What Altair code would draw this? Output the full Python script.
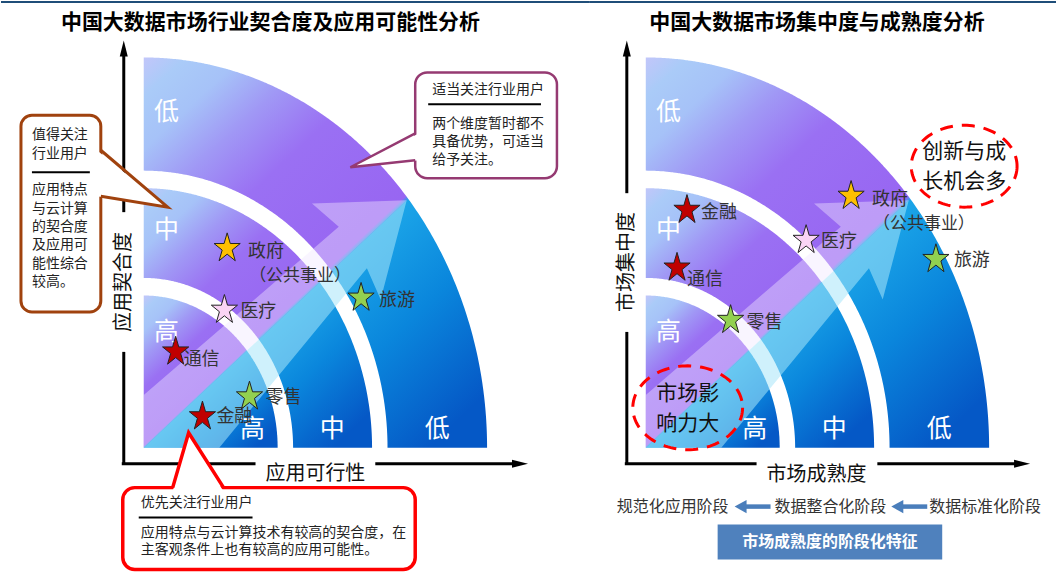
import altair as alt
import numpy as np
import pandas as pd

FONT = "Noto Sans CJK SC"

# ------------------------------------------------------------------ data
LEFT_TITLE = "中国大数据市场行业契合度及应用可能性分析"
RIGHT_TITLE = "中国大数据市场集中度与成熟度分析"
LEFT_X_TITLE, LEFT_Y_TITLE = "应用可行性", "应用契合度"
RIGHT_X_TITLE, RIGHT_Y_TITLE = "市场成熟度", "市场集中度"

LEVELS = ["高", "中", "低"]
LEVEL_INNER = [0.0, 43.5, 71.0]
LEVEL_OUTER = [39.0, 66.5, 100.0]

INDUSTRIES = ["政府", "医疗", "旅游", "通信", "零售", "金融"]
STAR_COLORS = ["#ffc000", "#fad4f4", "#92d050", "#c00000", "#92d050", "#c00000"]
GOV_NOTE = "（公共事业）"

# left panel: 应用可行性 (x) / 应用契合度 (y)
LEFT_X = [24.3, 23.5, 63.3, 9.3, 30.8, 17.1]
LEFT_Y = [51.1, 35.3, 38.4, 24.6, 13.1, 8.0]
# right panel: 市场成熟度 (x) / 市场集中度 (y)
RIGHT_X = [59.8, 46.7, 84.5, 9.1, 24.7, 12.0]
RIGHT_Y = [64.5, 53.2, 48.3, 46.1, 32.7, 60.9]

NOTE_WATCH_TITLE = ["值得关注", "行业用户"]
NOTE_WATCH_BODY = ["应用特点", "与云计算", "的契合度", "及应用可", "能性综合", "较高。"]
NOTE_MODERATE_TITLE = ["适当关注行业用户"]
NOTE_MODERATE_BODY = ["两个维度暂时都不", "具备优势，可适当", "给予关注。"]
NOTE_PRIORITY_TITLE = ["优先关注行业用户"]
NOTE_PRIORITY_BODY = ["应用特点与云计算技术有较高的契合度，在", "主客观条件上也有较高的应用可能性。"]

BUBBLE_GROWTH = ["创新与成", "长机会多"]
BUBBLE_IMPACT = ["市场影", "响力大"]
STAGES = ["规范化应用阶段", "数据整合化阶段", "数据标准化阶段"]
STAGE_CAPTION = "市场成熟度的阶段化特征"

# ------------------------------------------------------------------ layout
SX, SY = 3.44, 3.91          # px per unit
H = 580
LEFT = dict(off=0, w=590, cx=143.0, cy=448.0)
RIGHT = dict(off=590, w=467, cx=646.0, cy=448.0)

LEFT_LABEL_DX = [21, 16, 18, 8, 16, 14]
LEFT_LABEL_DY = [4, 2, 3, 8, 1, 1]
RIGHT_LABEL_DX = [21, 15, 18, 10, 16, 14]
RIGHT_LABEL_DY = [4, 2, 2, 12, 3, 3]
GOV_NOTE_DX, GOV_NOTE_DY = 73, 28

LEVEL_LABEL_V = [29.7, 55.8, 85.9]   # along the vertical side
LEVEL_LABEL_U = [31.7, 54.9, 85.5]   # along the horizontal side

ARROW_TOP = [(0, 13.5), (56.8, 56.6), (49.0, 62.6), (76.6, 63.4), (0, 0)]
ARROW_SIDE = [(0, 0), (76.6, 63.4), (69.0, 38.0), (65.0, 46.0), (22.0, 0)]

GRADIENT = alt.Gradient(
    gradient="linear", x1=0, y1=0, x2=0.83, y2=1,
    stops=[
        alt.GradientStop(offset=0.0, color="#c2c6fa"),
        alt.GradientStop(offset=0.06, color="#aacbf8"),
        alt.GradientStop(offset=0.14, color="#a6c2f8"),
        alt.GradientStop(offset=0.24, color="#a098f5"),
        alt.GradientStop(offset=0.36, color="#9a70f3"),
        alt.GradientStop(offset=0.585, color="#9866f2"),
        alt.GradientStop(offset=0.595, color="#1ba5e8"),
        alt.GradientStop(offset=0.78, color="#0a86dc"),
        alt.GradientStop(offset=1.0, color="#0558c6"),
    ],
)

_a = np.deg2rad(np.arange(10) * 36 - 90)
_r = np.where(np.arange(10) % 2 == 0, 1.0, 0.382)
STAR = "M" + "L".join(f"{r*np.cos(a):.3f},{1.12*r*np.sin(a):.3f}" for r, a in zip(_r, _a)) + "Z"
HEAD_UP = "M0,-1L0.5,1L-0.5,1Z"
HEAD_RIGHT = "M1,0L-1,0.5L-1,-0.5Z"
HEAD_LEFT = "M-1,0L1,-1.1L1,1.1Z"


def band_frame():
    rows = []
    t = np.linspace(0, np.pi / 2, 181)
    for name, r0, r1 in zip(LEVELS, LEVEL_INNER, LEVEL_OUTER):
        xv = np.unique(np.round(np.concatenate([r1 * np.cos(t), r0 * np.cos(t)]), 6))
        xv = xv[xv <= r1]
        top = np.sqrt(np.clip(r1 ** 2 - xv ** 2, 0, None))
        bot = np.sqrt(np.clip(r0 ** 2 - xv ** 2, 0, None))
        for a, b, c in zip(xv, bot, top):
            rows.append({"band": name, "x": a, "y": b, "y2": c})
    return pd.DataFrame(rows)


def build(p, side):
    lx = p["cx"] - p["off"]
    xs = alt.Scale(domain=[-lx / SX, (p["w"] - lx) / SX], nice=False, zero=False)
    ys = alt.Scale(domain=[(p["cy"] - H) / SY, p["cy"] / SY], nice=False, zero=False)

    def X(f):
        return alt.X(f"{f}:Q", scale=xs, axis=None)

    def Y(f):
        return alt.Y(f"{f}:Q", scale=ys, axis=None)

    def u(px):
        return (px - p["cx"]) / SX

    def v(py):
        return (p["cy"] - py) / SY

    def text_units(xv, yv, tv, size, color="#333333", weight="normal", align="left", angle=None):
        df = pd.DataFrame({"x": xv, "y": yv, "t": tv})
        kw = dict(font=FONT, fontSize=size, color=color, fontWeight=weight,
                  align=align, baseline="middle")
        if angle is not None:
            kw["angle"] = angle
        return alt.Chart(df).mark_text(**kw).encode(x=X("x"), y=Y("y"), text="t:N")

    def texts(rows, size, color="#222222", weight="normal", align="left", angle=None):
        return text_units([u(r[0]) for r in rows], [v(r[1]) for r in rows],
                          [r[2] for r in rows], size, color, weight, align, angle)

    def rules(rows, color, width):
        df = pd.DataFrame([{"x": u(a), "y": v(b), "x2": u(c), "y2": v(d)} for a, b, c, d in rows])
        return alt.Chart(df).mark_rule(color=color, strokeWidth=width).encode(
            x=X("x"), y=Y("y"), x2=alt.X2("x2:Q"), y2=alt.Y2("y2:Q"))

    def poly_units(points, fill, opacity=1.0):
        df = pd.DataFrame([{"x": a, "y": b, "i": k} for k, (a, b) in enumerate(points)])
        return alt.Chart(df).mark_line(fill=fill, fillOpacity=opacity, strokeWidth=0,
                                       strokeOpacity=0).encode(x=X("x"), y=Y("y"), order="i:Q")

    def path_units(points, color, width, dash=None):
        df = pd.DataFrame([{"x": a, "y": b, "i": k} for k, (a, b) in enumerate(points)])
        kw = dict(color=color, strokeWidth=width, strokeJoin="miter")
        if dash:
            kw["strokeDash"] = dash
        return alt.Chart(df).mark_line(**kw).encode(x=X("x"), y=Y("y"), order="i:Q")

    def symbols(xv, yv, shape, size, color):
        df = pd.DataFrame({"x": xv, "y": yv})
        return alt.Chart(df).mark_point(shape=shape, size=size, filled=True, color=color,
                                        opacity=1).encode(x=X("x"), y=Y("y"))

    def callout(rect, tail, inward, color, sw, radius):
        x0, y0, x1, y1 = rect
        rdf = pd.DataFrame([{"x": u(x0), "x2": u(x1), "y": v(y0), "y2": v(y1)}])
        box = alt.Chart(rdf).mark_rect(fill="white", stroke=color, strokeWidth=sw,
                                       cornerRadius=radius).encode(
            x=X("x"), x2=alt.X2("x2:Q"), y=Y("y"), y2=alt.Y2("y2:Q"))
        b1, tip, b2 = tail
        ix, iy = inward
        fill_pts = [(u(b1[0] + ix), v(b1[1] + iy)), (u(tip[0]), v(tip[1])),
                    (u(b2[0] + ix), v(b2[1] + iy))]
        line_pts = [(u(b1[0]), v(b1[1])), (u(tip[0]), v(tip[1])), (u(b2[0]), v(b2[1]))]
        return [box, poly_units(fill_pts, "white"), path_units(line_pts, color, sw)]

    layers = []
    # top rule + title
    layers.append(rules([(p["off"], 1.5, p["off"] + p["w"], 1.5)], "#1f4e79", 2))
    if side == "left":
        layers.append(texts([(270, 23, LEFT_TITLE)], 21, "#000000", "bold", "center"))
    else:
        layers.append(texts([(817.5, 23, RIGHT_TITLE)], 21, "#000000", "bold", "center"))

    # level bands
    layers.append(alt.Chart(band_frame()).mark_area(color=GRADIENT, interpolate="linear").encode(
        x=X("x"), y=Y("y"), y2=alt.Y2("y2:Q"), detail="band:N"))
    # big translucent arrow
    layers.append(poly_units(ARROW_TOP, "#f0e8ff", 0.42))
    layers.append(poly_units(ARROW_SIDE, "#a8e6fa", 0.55))
    # level labels
    layers.append(text_units([6.6] * 3, LEVEL_LABEL_V, LEVELS, 25, "white", align="center"))
    layers.append(text_units(LEVEL_LABEL_U, [4.9] * 3, LEVELS, 25, "white", align="center"))

    # axes
    if side == "left":
        ax = dict(vx=123, vs=[(464, 352), (212, 48)], vt=40, hy=464,
                  hs=[(121, 255), (375, 519)], ht=528,
                  yt=(123, 282, LEFT_Y_TITLE), xt=(315, 474, LEFT_X_TITLE))
    else:
        ax = dict(vx=627, vs=[(464, 332), (193, 48)], vt=40, hy=464,
                  hs=[(625, 757), (878, 1022)], ht=1031,
                  yt=(627, 262, RIGHT_Y_TITLE), xt=(817, 475, RIGHT_X_TITLE))
    segs = [(ax["vx"], a, ax["vx"], b) for a, b in ax["vs"]] + \
           [(a, ax["hy"], b, ax["hy"]) for a, b in ax["hs"]]
    layers.append(rules(segs, "#000000", 3))
    layers.append(symbols([u(ax["vx"])], [v(ax["vt"] + 8)], HEAD_UP, 256, "#000000"))
    layers.append(symbols([u(ax["ht"] - 8)], [v(ax["hy"])], HEAD_RIGHT, 256, "#000000"))
    layers.append(texts([ax["yt"]], 20, "#111111", align="center", angle=270))
    layers.append(texts([ax["xt"]], 20, "#111111", align="center"))

    if side == "left":
        # 值得关注行业用户
        layers += callout((20, 115, 100, 312), [(100, 150), (167, 207), (100, 196)], (-4, 0),
                          "#a0420e", 3, 11)
        layers.append(texts([(31, 135 + 18.3 * i, s) for i, s in enumerate(NOTE_WATCH_TITLE)], 14))
        layers.append(rules([(31, 172, 89, 172)], "#000000", 2))
        layers.append(texts([(31, 190 + 18.4 * i, s) for i, s in enumerate(NOTE_WATCH_BODY)], 14))
        # 适当关注行业用户
        layers += callout((415, 72, 557, 178), [(415, 133), (350, 167), (415, 160)], (4, 0),
                          "#953a72", 2.5, 12)
        layers.append(texts([(432, 90, NOTE_MODERATE_TITLE[0])], 14))
        layers.append(rules([(428, 104, 541, 104)], "#000000", 2))
        layers.append(texts([(432, 123.5 + 18.3 * i, s) for i, s in enumerate(NOTE_MODERATE_BODY)], 14))
        # 优先关注行业用户
        layers += callout((122, 488, 415, 570), [(172, 488), (188, 433), (223, 488)], (0, 4),
                          "#ff0000", 3.5, 12)
        layers.append(texts([(140, 503, NOTE_PRIORITY_TITLE[0])], 14))
        layers.append(rules([(138, 518, 252, 518)], "#000000", 2))
        layers.append(texts([(140, 533 + 17.5 * i, s) for i, s in enumerate(NOTE_PRIORITY_BODY)], 14))
    else:
        t = np.linspace(0, 2 * np.pi, 121)
        for (cx, cy, rx, ry), lines in [((965, 166, 53, 41), BUBBLE_GROWTH),
                                        ((688, 408, 55, 42), BUBBLE_IMPACT)]:
            pts = [(u(cx + rx * np.cos(a)), v(cy + ry * np.sin(a))) for a in t]
            layers.append(path_units(pts, "#ff0000", 3, [13, 9]))
            layers.append(texts([(cx, cy - 14, lines[0]), (cx, cy + 16, lines[1])], 21,
                                "#111111", align="center"))
        layers.append(texts([(617, 507, STAGES[0]), (775, 507, STAGES[1]), (930, 507, STAGES[2])],
                            16, "#333333"))
        layers.append(rules([(746, 507, 771, 507), (903, 507, 928, 507)], "#4a7ebb", 4.5))
        layers.append(symbols([u(741), u(898)], [v(507), v(507)], HEAD_LEFT, 144, "#4a7ebb"))
        bdf = pd.DataFrame([{"x": u(718), "x2": u(943), "y": v(525), "y2": v(560)}])
        layers.append(alt.Chart(bdf).mark_rect(fill="#4f81bd").encode(
            x=X("x"), x2=alt.X2("x2:Q"), y=Y("y"), y2=alt.Y2("y2:Q")))
        layers.append(texts([(830.5, 542.5, STAGE_CAPTION)], 16, "white", "bold", "center"))

    # stars and labels
    sx_vals = LEFT_X if side == "left" else RIGHT_X
    sy_vals = LEFT_Y if side == "left" else RIGHT_Y
    ldx = LEFT_LABEL_DX if side == "left" else RIGHT_LABEL_DX
    ldy = LEFT_LABEL_DY if side == "left" else RIGHT_LABEL_DY
    sdf = pd.DataFrame({"x": sx_vals, "y": sy_vals, "c": STAR_COLORS, "name": INDUSTRIES})
    layers.append(alt.Chart(sdf).mark_point(shape=STAR, size=760, filled=True, stroke="#222222",
                                            strokeWidth=1, opacity=1).encode(
        x=X("x"), y=Y("y"), fill=alt.Fill("c:N", scale=None)))
    layers.append(text_units([x + d / SX for x, d in zip(sx_vals, ldx)],
                             [y - d / SY for y, d in zip(sy_vals, ldy)], INDUSTRIES, 18))
    layers.append(text_units([sx_vals[0] + GOV_NOTE_DX / SX], [sy_vals[0] - GOV_NOTE_DY / SY],
                             [GOV_NOTE], 17, align="center"))

    return alt.layer(*layers).properties(width=p["w"], height=H)


left = build(LEFT, "left")
right = build(RIGHT, "right")

chart = alt.hconcat(left, right, spacing=0, bounds="flush").properties(
    padding=0, background="white"
).configure_view(strokeWidth=0)

chart.save("out.html", embed_options={"renderer": "svg", "actions": False})
